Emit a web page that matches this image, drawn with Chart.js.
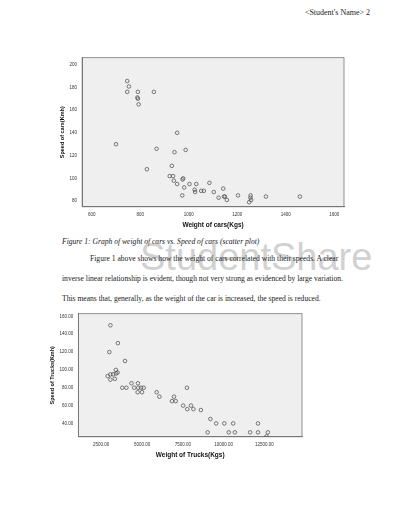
<!DOCTYPE html>
<html><head><meta charset="utf-8">
<script src="https://cdn.jsdelivr.net/npm/chart.js@4"></script>
<style>
body{margin:0;width:400px;height:517px;background:#fff;position:relative;overflow:hidden;font-family:"Liberation Serif",serif;color:#222}
.abs{position:absolute}
p{margin:0;font-size:7.6px;white-space:nowrap}
</style></head><body>
<div class="abs" style="right:30px;top:8px;font-size:8px">&lt;Student's Name&gt; 2</div>
<div class="abs" style="left:40px;top:52px;width:312px;height:178px"><canvas id="carsChart"></canvas></div>
<p class="abs" style="left:62px;top:237px;font-style:italic">Figure 1: Graph of weight of cars vs. Speed of cars (scatter plot)</p>
<div class="abs" style="left:140px;top:236px;font-family:'Liberation Sans',sans-serif;font-size:38px;color:rgba(170,170,170,0.55)">StudentShare</div>
<p class="abs" style="left:90px;top:254px">Figure 1 above shows how the weight of cars correlated with their speeds. A clear</p>
<p class="abs" style="left:62px;top:274px">inverse linear relationship is evident, though not very strong as evidenced by large variation.</p>
<p class="abs" style="left:62px;top:294px">This means that, generally, as the weight of the car is increased, the speed is reduced.</p>
<div class="abs" style="left:20px;top:308px;width:290px;height:152px"><canvas id="trucksChart"></canvas></div>
<script>
'use strict';

var carWeights = [746, 753, 746, 790, 788, 790, 793, 856, 700, 952, 867, 941, 987, 827, 930, 921, 935, 938, 977, 974, 952, 981, 1003, 1031, 1024, 1026, 1051, 1062, 1085, 1103, 1142, 973, 1123, 1145, 1149, 1157, 1203, 1249, 1257, 1255, 1254, 1318, 1458];
var carSpeeds = [185.5, 180.7, 176, 176, 171, 170, 165, 176, 130, 140, 126, 123, 125, 108, 111, 102, 102, 98, 100, 99, 95, 92, 95, 95, 90, 88, 89, 89, 96, 88, 91, 85, 83, 84, 84, 81, 85, 79, 81, 85, 83, 84, 84];
var carXTicks = [600, 800, 1000, 1200, 1400, 1600];
var carYTicks = [80, 100, 120, 140, 160, 180, 200];

var truckWeights = [3063, 3521, 3000, 3958, 3396, 2896, 3063, 3229, 3417, 3500, 3063, 3333, 3792, 4042, 4354, 4750, 4521, 4771, 4938, 5104, 4729, 5000, 5896, 6063, 6958, 6833, 7063, 7750, 7521, 8000, 7771, 8146, 8604, 9188, 9542, 10042, 10583, 12104, 9021, 10313, 10688, 11625, 12104, 12708, 12625];
var truckSpeeds = [150, 130, 120, 110, 100, 93, 95, 95, 96, 97, 89, 90, 80, 80, 85, 85, 80, 80, 80, 80, 75, 75, 75, 70, 70, 65, 65, 80, 60, 60, 56, 56, 55, 45, 40, 40, 40, 40, 30, 30, 30, 30, 30, 30, 25.5];
var truckXTicks = [2500, 5000, 7500, 10000, 12500];
var truckYTicks = [40, 60, 80, 100, 120, 140, 160];

var plotBg = {
  id: 'plotBg',
  beforeDraw: function (chart) {
    var a = chart.chartArea, ctx = chart.ctx;
    ctx.save();
    ctx.fillStyle = '#efefef';
    ctx.fillRect(a.left, a.top, a.width, a.height);
    ctx.strokeStyle = '#777';
    ctx.lineWidth = 0.8;
    ctx.strokeRect(a.left, a.top, a.width, a.height);
    ctx.restore();
  }
};

function pairs(xs, ys) { return xs.map(function (x, i) { return { x: x, y: ys[i] }; }); }

function makeScatter(id, xs, ys, xTicks, yTicks, xr, yr, xTitle, yTitle, decimals, padLeft) {
  var fmt = function (v) { return decimals ? v.toFixed(2) : String(v); };
  new Chart(document.getElementById(id), {
    type: 'scatter',
    data: { datasets: [{ data: pairs(xs, ys), pointStyle: 'circle', pointRadius: 1.8, borderColor: '#444', borderWidth: 0.7, backgroundColor: 'transparent' }] },
    options: {
      animation: false, responsive: true, maintainAspectRatio: false,
      layout: { padding: { right: 8, top: 4, left: padLeft } },
      plugins: { legend: { display: false }, tooltip: { enabled: false } },
      scales: {
        x: {
          min: xr[0], max: xr[1],
          afterBuildTicks: function (s) { s.ticks = xTicks.map(function (v) { return { value: v }; }); },
          ticks: { callback: fmt, font: { family: 'Liberation Sans', size: 4.5 }, color: '#333', maxRotation: 0 },
          grid: { display: false, drawTicks: true, tickLength: 2 },
          border: { color: '#777' },
          title: { display: true, text: xTitle, font: { family: 'Liberation Sans', size: 6.5, weight: 'bold' }, color: '#111', padding: 1 }
        },
        y: {
          min: yr[0], max: yr[1],
          afterBuildTicks: function (s) { s.ticks = yTicks.map(function (v) { return { value: v }; }); },
          ticks: { callback: fmt, font: { family: 'Liberation Sans', size: 4.5 }, color: '#333' },
          grid: { display: false, tickLength: 2 },
          border: { color: '#777' },
          title: { display: true, text: yTitle, font: { family: 'Liberation Sans', size: 5.5, weight: 'bold' }, color: '#111', padding: 1 }
        }
      }
    },
    plugins: [plotBg]
  });
}

makeScatter('carsChart', carWeights, carSpeeds, carXTicks, carYTicks, [560, 1640], [75, 206], 'Weight of cars(Kgs)', 'Speed of cars(Kmh)', false, 18);
makeScatter('trucksChart', truckWeights, truckSpeeds, truckXTicks, truckYTicks, [1100, 14800], [25, 163], 'Weight of Trucks(Kgs)', 'Speed of Trucks(Kmh)', true, 28);
</script>
</body></html>
